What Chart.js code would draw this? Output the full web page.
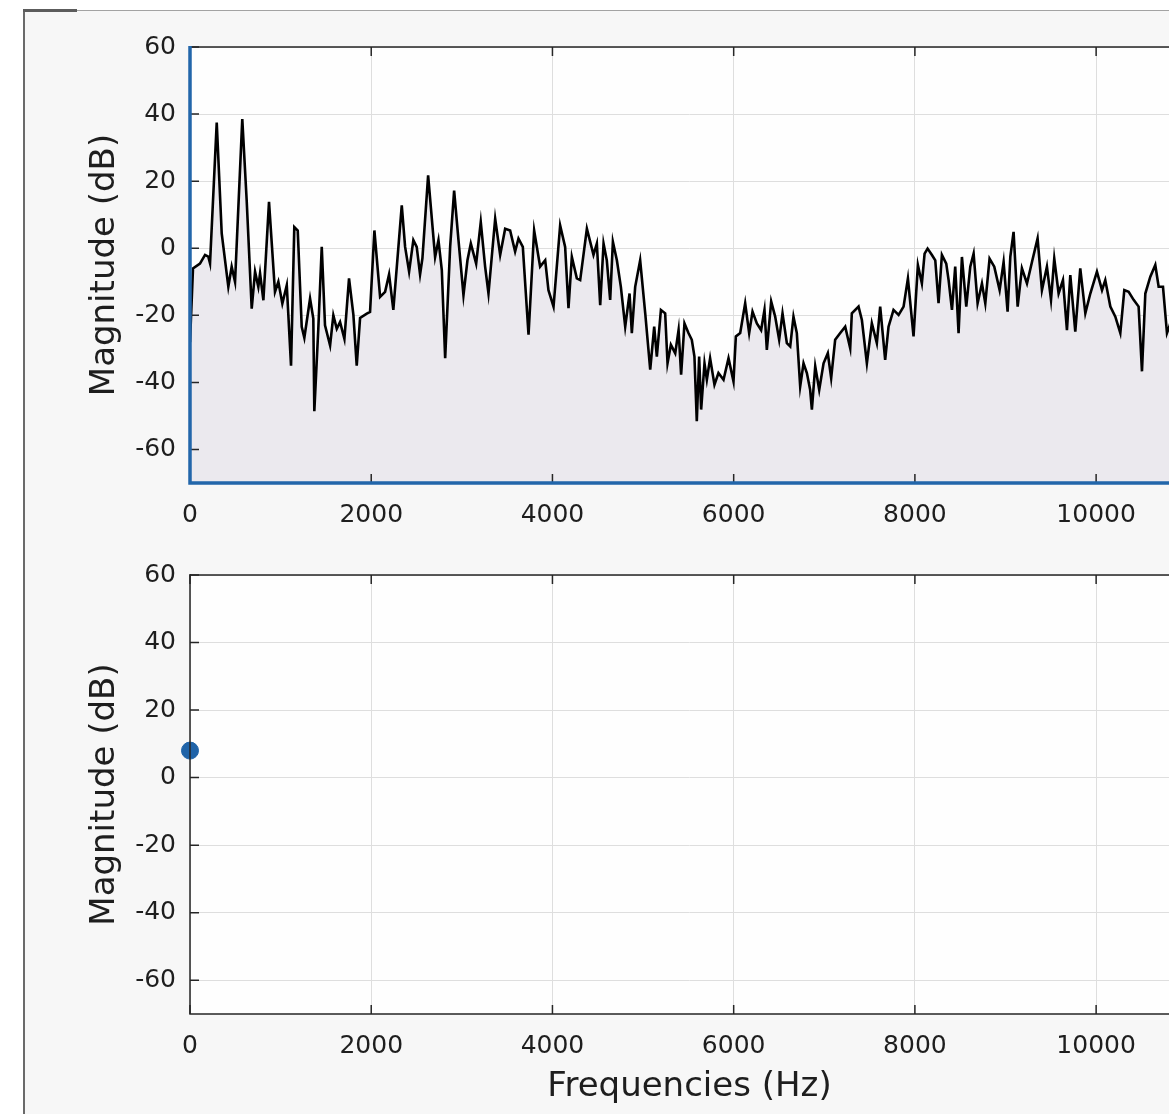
<!DOCTYPE html>
<html>
<head>
<meta charset="utf-8">
<script src="https://cdn.jsdelivr.net/npm/chart.js@4.4.1/dist/chart.umd.min.js"></script>
<style>
  html, body { margin:0; padding:0; background:#ffffff; overflow:hidden; width:1169px; height:1114px; }
  #frame { position:absolute; left:23px; top:10px; width:1300px; height:1200px; background:#f7f7f7;
           border-left:2px solid #6a6a6a; border-top:1px solid #a3a3a3; }
  #frameTab { position:absolute; left:23px; top:9px; width:54px; height:3px; background:#5c5c5c; }
  canvas { position:absolute; left:0; }
  #specCanvas { top:0; }
  #pointCanvas { top:540px; }
</style>
</head>
<body>
<div id="frame"></div>
<div id="frameTab"></div>
<canvas id="specCanvas" width="1260" height="540"></canvas>
<canvas id="pointCanvas" width="1260" height="574"></canvas>
<script>
// spectrum (Hz, dB)
const freqHz = [
  0, 33, 110, 166, 202, 221, 295, 350, 423, 460, 497, 577, 626, 681, 718, 754, 773, 810, 872, 938,
  975, 1019, 1068, 1115, 1151, 1189, 1233, 1262, 1325, 1361, 1372, 1416, 1454, 1490, 1546, 1582, 1620, 1656, 1704, 1755,
  1803, 1840, 1877, 1951, 1987, 2035, 2098, 2153, 2197, 2244, 2337, 2374, 2418, 2465, 2502, 2539, 2565, 2628, 2705, 2742,
  2779, 2816, 2871, 2915, 2963, 3018, 3062, 3099, 3158, 3209, 3257, 3294, 3368, 3423, 3478, 3533, 3588, 3625, 3673, 3736,
  3798, 3864, 3920, 3956, 4012, 4085, 4140, 4177, 4214, 4269, 4306, 4380, 4453, 4490, 4527, 4564, 4600, 4637, 4667, 4711,
  4755, 4803, 4851, 4876, 4913, 4968, 5024, 5079, 5123, 5152, 5197, 5244, 5270, 5307, 5355, 5392, 5420, 5457, 5501, 5538,
  5567, 5593, 5619, 5641, 5678, 5704, 5740, 5788, 5832, 5888, 5943, 5998, 6024, 6072, 6127, 6171, 6208, 6256, 6303, 6340,
  6366, 6414, 6458, 6502, 6539, 6587, 6624, 6660, 6697, 6734, 6771, 6808, 6844, 6863, 6900, 6944, 6992, 7039, 7076, 7120,
  7176, 7231, 7286, 7304, 7378, 7415, 7470, 7525, 7580, 7617, 7672, 7709, 7764, 7820, 7875, 7923, 7985, 8033, 8077, 8107,
  8140, 8188, 8225, 8261, 8298, 8346, 8372, 8409, 8445, 8482, 8519, 8567, 8611, 8648, 8692, 8740, 8777, 8824, 8876, 8935,
  8979, 9023, 9053, 9089, 9134, 9181, 9237, 9292, 9354, 9402, 9457, 9502, 9538, 9586, 9634, 9678, 9715, 9770, 9825, 9881,
  9936, 10009, 10065, 10101, 10157, 10212, 10267, 10311, 10359, 10414, 10469, 10506, 10543, 10598, 10653, 10690, 10738, 10782, 10808, 10860
];
const magDb = [
  -28, -6, -4.6, -2, -2.5, -4.5, 37.5, 4.4, -11.5, -5.5, -10, 38.5, 14, -18, -7, -11.5, -7.5, -15.5, 13.8, -13,
  -10, -16.5, -11, -35, 6.3, 5.3, -23.4, -26.7, -15, -21, -48.6, -24, 0.4, -23, -29, -20, -24, -22, -27, -9,
  -19.8, -35, -20.8, -19.5, -19, 5.3, -14.5, -13, -7.8, -18.4, 12.8, 0.4, -7, 2.4, 0.4, -7.8, -3, 21.7, -2.6, 2.4,
  -6.5, -32.8, 0.4, 17.2, 2.4, -14, -3.6, 1.4, -4.6, 7.8, -5.5, -13.5, 8.8, -2, 5.8, 5.3, -1, 2.9, 0.4, -25.8,
  5.3, -5.5, -3.6, -12.5, -17.4, 6.8, 0.4, -17.9, -2.6, -9, -9.5, 5.8, -2, 1.4, -17, 1.4, -3.6, -15.4, 1.9, -3.6,
  -11.5, -23.4, -13.5, -25.3, -11.5, -3.6, -19.4, -36.2, -23.4, -32.3, -18.4, -19.4, -34.3, -28.8, -31.3, -24.4, -37.7, -22.4, -25.3, -27.3,
  -32.3, -51.6, -32.3, -48.1, -34.3, -39.2, -32.8, -40.7, -37.2, -39.2, -32.8, -39.7, -26.3, -25.3, -16.4, -25.3, -18.9, -22.4, -24.4, -18.4,
  -30.3, -15.9, -20.4, -27.3, -19.4, -28.3, -29.3, -20.4, -25.3, -41.2, -34.3, -37.2, -42.2, -48.1, -35.2, -42.2, -34.3, -31.3, -38.7, -27.3,
  -25.3, -23.4, -29.8, -19.4, -17.4, -21.4, -34.3, -22.4, -28.3, -17.4, -33.3, -23.4, -18.4, -19.9, -17.4, -9, -26.3, -5, -10.5, -1.6,
  -0.1, -2, -3.6, -16.4, -2, -4.6, -9.5, -18.4, -5.5, -25.3, -2.6, -17.4, -5.5, -1.6, -16.4, -10.5, -16.4, -3.1, -5.5, -12.5,
  -4.1, -18.9, -2.6, 4.9, -17.4, -6, -10.5, -4.1, 2.9, -12.5, -5.5, -15.4, -3.1, -13.5, -9.5, -24.4, -8, -24.9, -6, -19.4,
  -13.5, -7, -12.5, -9.5, -17.4, -20.4, -25.3, -12.5, -13, -15.4, -17.4, -36.7, -13.5, -8.5, -5, -11.5, -11.5, -25.3, -23.4, -18
];
// the single marker in the lower panel
const markerHz = [0];
const markerDb = [8];

const xTicks = [0, 2000, 4000, 6000, 8000, 10000];
const yTicks = [-60, -40, -20, 0, 20, 40, 60];
const xMax = 11025;
const yMin = -70, yMax = 60;

const tickFont = { family: 'DejaVu Sans', size: 25 };
const titleFont = { family: 'DejaVu Sans', size: 34 };
const textColor = '#1e1e1e';
const blue = '#2266aa';

// white axes box + MATLAB style inward ticks and box edges
function boxPlugin(edgeColor, edgeWidth) {
  return {
    id: 'box',
    beforeDraw(chart) {
      const a = chart.chartArea, ctx = chart.ctx;
      ctx.save();
      ctx.fillStyle = '#fefefe';
      ctx.fillRect(a.left, a.top, a.right - a.left, a.bottom - a.top);
      ctx.restore();
    },
    afterDatasetsDraw(chart) {
      const a = chart.chartArea, ctx = chart.ctx;
      const xs = chart.scales.x, ys = chart.scales.y;
      ctx.save();
      ctx.strokeStyle = '#262626';
      ctx.lineWidth = 1.5;
      ctx.beginPath();
      xTicks.forEach(v => {
        const px = xs.getPixelForValue(v);
        ctx.moveTo(px, a.bottom); ctx.lineTo(px, a.bottom - 9);
        ctx.moveTo(px, a.top); ctx.lineTo(px, a.top + 9);
      });
      yTicks.forEach(v => {
        const py = ys.getPixelForValue(v);
        ctx.moveTo(a.left, py); ctx.lineTo(a.left + 9, py);
        ctx.moveTo(a.right, py); ctx.lineTo(a.right - 9, py);
      });
      ctx.stroke();
      // top and right edges
      ctx.beginPath();
      ctx.moveTo(a.left, a.top); ctx.lineTo(a.right, a.top); ctx.lineTo(a.right, a.bottom);
      ctx.stroke();
      // left and bottom edges
      ctx.strokeStyle = edgeColor;
      ctx.lineWidth = edgeWidth;
      ctx.beginPath();
      ctx.moveTo(a.left, a.top - 1); ctx.lineTo(a.left, a.bottom); ctx.lineTo(a.right, a.bottom);
      ctx.stroke();
      ctx.restore();
    }
  };
}

function makeScales(xTitle, xHeight, yTitlePad) {
  return {
    x: {
      type: 'linear', min: 0, max: xMax,
      afterBuildTicks: s => { s.ticks = xTicks.map(v => ({ value: v })); },
      afterFit: s => { s.height = xHeight; },
      grid: { color: '#dedede', lineWidth: 1, drawTicks: false },
      border: { display: false },
      ticks: { font: tickFont, color: textColor, padding: 17, maxRotation: 0, autoSkip: false,
               callback: v => String(v) },
      title: { display: !!xTitle, text: xTitle, font: titleFont, color: textColor, padding: { top: 0, bottom: 6 } },
      position: 'bottom'
    },
    y: {
      type: 'linear', min: yMin, max: yMax,
      afterBuildTicks: s => { s.ticks = yTicks.map(v => ({ value: v })); },
      afterFit: s => { s.width = 190; },
      grid: { color: '#dedede', lineWidth: 1, drawTicks: false },
      border: { display: false },
      ticks: { font: tickFont, color: textColor, padding: 14, callback: v => String(v) },
      title: { display: true, text: 'Magnitude (dB)', font: titleFont, color: textColor, padding: { top: yTitlePad, bottom: 0 } }
    }
  };
}

new Chart(document.getElementById('specCanvas'), {
  type: 'line',
  data: {
    datasets: [{
      data: freqHz.map((f, i) => ({ x: f, y: magDb[i] })),
      borderColor: '#000000',
      borderWidth: 2.6,
      backgroundColor: '#ebe9ee',
      fill: 'start',
      pointRadius: 0,
      tension: 0
    }]
  },
  options: {
    responsive: false, animation: false, devicePixelRatio: 1,
    layout: { padding: { left: 0, top: 47, right: 71, bottom: 0 } },
    plugins: { legend: { display: false }, tooltip: { enabled: false } },
    scales: makeScales('', 57, 85)
  },
  plugins: [boxPlugin(blue, 3.5)]
});

new Chart(document.getElementById('pointCanvas'), {
  type: 'scatter',
  data: {
    datasets: [{
      data: markerHz.map((f, i) => ({ x: f, y: markerDb[i] })),
      backgroundColor: '#1f63a8',
      borderColor: '#1f63a8',
      pointRadius: 8.5,
      clip: false
    }]
  },
  options: {
    responsive: false, animation: false, devicePixelRatio: 1,
    layout: { padding: { left: 0, top: 35, right: 71, bottom: 0 } },
    plugins: { legend: { display: false }, tooltip: { enabled: false } },
    scales: makeScales('Frequencies (Hz)', 100, 85)
  },
  plugins: [boxPlugin('#262626', 1.5)]
});
</script>
</body>
</html>
